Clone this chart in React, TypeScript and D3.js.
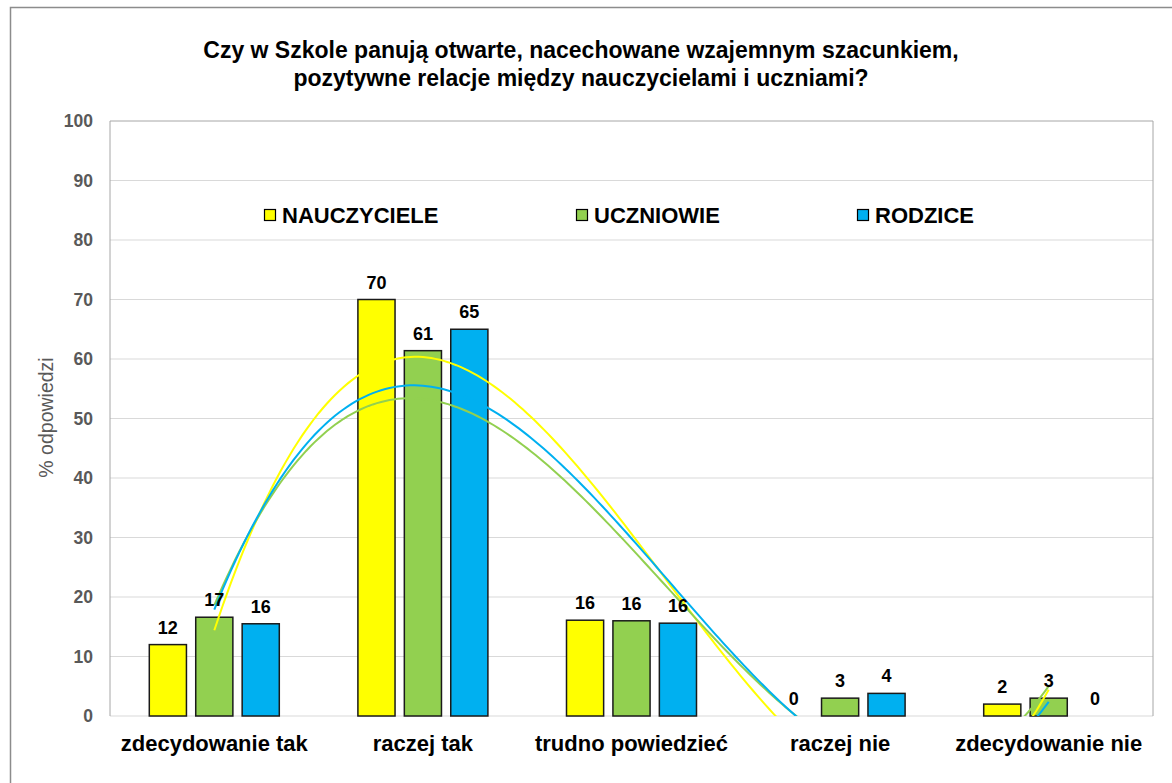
import React from 'react';
import * as d3 from 'd3';

const categories = ['zdecydowanie tak', 'raczej tak', 'trudno powiedzieć', 'raczej nie', 'zdecydowanie nie'];
const seriesNames = ['NAUCZYCIELE', 'UCZNIOWIE', 'RODZICE'];
const seriesColors = ['#ffff00', '#92d050', '#00b0f0'];
const nauczyciele = [12, 70, 16.1, 0, 2];
const uczniowie = [16.6, 61.4, 16, 3, 3];
const rodzice = [15.5, 65, 15.6, 3.8, 0];
const yTicks = [0, 10, 20, 30, 40, 50, 60, 70, 80, 90, 100];
const titleLines = [
  'Czy w Szkole panują otwarte, nacechowane wzajemnym szacunkiem,',
  'pozytywne relacje między nauczycielami i uczniami?',
];

const allSeries = [nauczyciele, uczniowie, rodzice];
const FONT = '"Liberation Sans", Arial, sans-serif';

// least squares polynomial fit (Excel style polynomial trendline, order 3)
function polyFit(ys: number[], order: number): number[] {
  const n = order + 1;
  const A: number[][] = [];
  for (let i = 0; i < n; i++) {
    A.push(new Array(n + 1).fill(0));
  }
  ys.forEach((y, k) => {
    const x = k + 1;
    for (let i = 0; i < n; i++) {
      for (let j = 0; j < n; j++) A[i][j] += Math.pow(x, i + j);
      A[i][n] += y * Math.pow(x, i);
    }
  });
  // gaussian elimination
  for (let c = 0; c < n; c++) {
    let p = c;
    for (let r = c + 1; r < n; r++) if (Math.abs(A[r][c]) > Math.abs(A[p][c])) p = r;
    [A[c], A[p]] = [A[p], A[c]];
    for (let r = 0; r < n; r++) {
      if (r === c) continue;
      const f = A[r][c] / A[c][c];
      for (let j = c; j <= n; j++) A[r][j] -= f * A[c][j];
    }
  }
  return A.map((row, i) => row[n] / A[i][i]);
}

const App = () => {
  const W = 1172;
  const H = 783;
  const plot = { left: 110, right: 1153, top: 121, bottom: 716 };

  const x = d3.scaleBand<string>().domain(categories).range([plot.left, plot.right]).padding(0);
  const inner = d3.scaleBand<string>().domain(seriesNames).range([-65, 65]).paddingInner(0.2).paddingOuter(0);
  const y = d3.scaleLinear().domain([0, 100]).range([plot.bottom, plot.top]);
  const xPos = d3.scaleLinear().domain([1, categories.length])
    .range([x(categories[0])! + x.bandwidth() / 2, x(categories[categories.length - 1])! + x.bandwidth() / 2]);

  const line = d3.line<number[]>().x(d => xPos(d[0])).y(d => y(d[1])).curve(d3.curveLinear);

  const trendPaths = allSeries.map(vals => {
    const c = polyFit(vals, 3);
    const pts = d3.range(1, categories.length + 0.001, 0.02).map(t => [t, c.reduce((s, ci, i) => s + ci * Math.pow(t, i), 0)]);
    return line(pts) || '';
  });

  const legendX = [264, 576, 857];

  return (
    <svg width={W} height={H} style={{ position: 'absolute', left: 0, top: 0, background: '#fff' }} fontFamily={FONT}>
      <defs>
        <clipPath id="plotClip">
          <rect x={plot.left} y={plot.top} width={plot.right - plot.left} height={plot.bottom - plot.top} />
        </clipPath>
      </defs>
      <rect x={10.5} y={7.5} width={W + 20} height={H + 20} fill="#fff" stroke="#8c8c8c" strokeWidth={1.5} />

      {titleLines.map((t, i) => (
        <text key={i} x={581} y={58 + i * 28} textAnchor="middle" fontSize={23} fontWeight="bold" fill="#000">{t}</text>
      ))}

      {/* gridlines */}
      {yTicks.map(t => (
        <line key={t} x1={plot.left} x2={plot.right} y1={y(t)} y2={y(t)}
          stroke={t === 100 ? '#a6a6a6' : '#d9d9d9'} strokeWidth={1} />
      ))}
      <line x1={plot.left} x2={plot.left} y1={plot.top} y2={plot.bottom} stroke="#a6a6a6" />
      <line x1={plot.right} x2={plot.right} y1={plot.top} y2={plot.bottom} stroke="#a6a6a6" />

      {/* y ticks */}
      {yTicks.map(t => (
        <text key={t} x={93} y={y(t)} dy="0.35em" textAnchor="end" fontSize={17.5} fontWeight="bold" fill="#595959">{t}</text>
      ))}
      <text transform={`translate(53,${(353 + 482) / 2}) rotate(-90)`} textAnchor="middle" fontSize={19.5} fill="#595959">% odpowiedzi</text>

      {/* legend */}
      {seriesNames.map((s, i) => (
        <g key={s}>
          <rect x={legendX[i] + 0.5} y={209.5} width={11} height={11} fill={seriesColors[i]} stroke="#000" strokeWidth={1.2} />
          <text x={legendX[i] + 18} y={223} fontSize={22} fontWeight="bold" fill="#000">{s}</text>
        </g>
      ))}

      {/* bars */}
      {categories.map((c, ci) => (
        <g key={c} transform={`translate(${x(c)! + x.bandwidth() / 2},0)`}>
          {seriesNames.map((s, si) => {
            const v = allSeries[si][ci];
            const bx = inner(s)!;
            return (
              <g key={s}>
                {v > 0 && (
                  <rect x={bx} y={y(v)} width={inner.bandwidth()} height={y(0) - y(v)}
                    fill={seriesColors[si]} stroke="#1a1a1a" strokeWidth={1.5} />
                )}
              </g>
            );
          })}
        </g>
      ))}

      {/* trendlines */}
      <g clipPath="url(#plotClip)">
        {trendPaths.map((d, i) => (
          <path key={i} d={d} fill="none" stroke={seriesColors[i]} strokeWidth={2} />
        ))}
      </g>

      {/* data labels */}
      {categories.map((c, ci) => (
        <g key={c} transform={`translate(${x(c)! + x.bandwidth() / 2},0)`}>
          {seriesNames.map((s, si) => {
            const v = allSeries[si][ci];
            return (
              <text key={s} x={inner(s)! + inner.bandwidth() / 2} y={y(v) - 11} textAnchor="middle"
                fontSize={18} fontWeight="bold" fill="#000">{Math.round(v)}</text>
            );
          })}
        </g>
      ))}

      {/* category labels */}
      {categories.map(c => (
        <text key={c} x={x(c)! + x.bandwidth() / 2} y={751} textAnchor="middle" fontSize={22} fontWeight="bold" fill="#000">{c}</text>
      ))}
    </svg>
  );
};

export default App;
